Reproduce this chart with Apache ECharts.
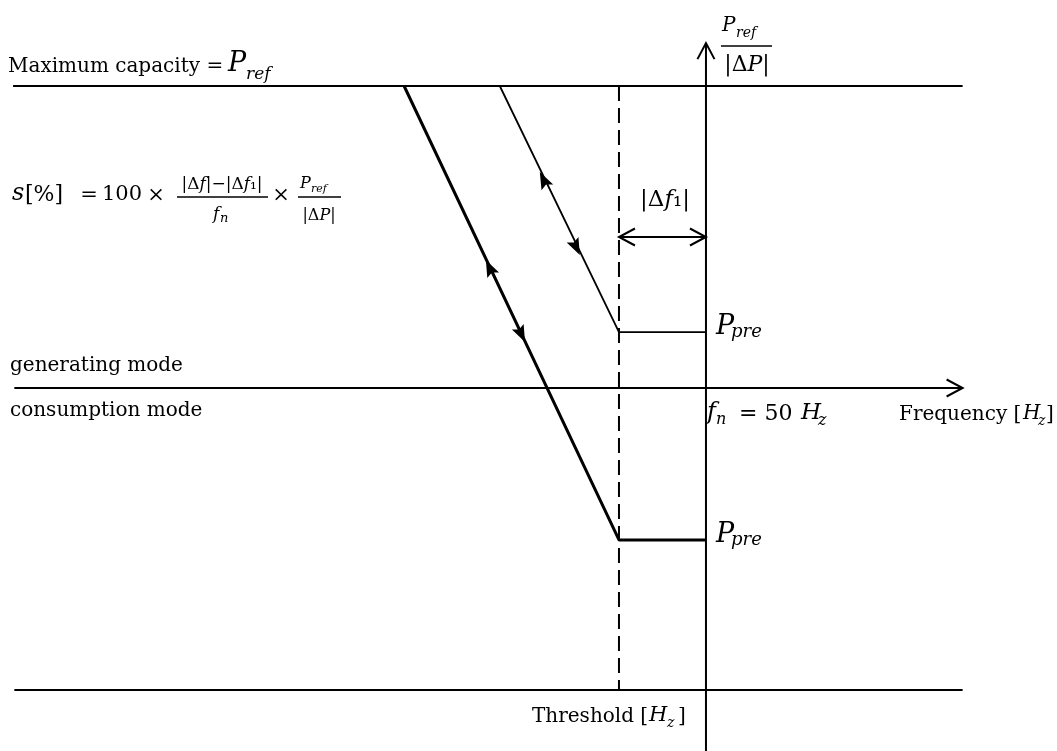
<!DOCTYPE html>
<html>
<head>
<meta charset="utf-8">
<script src="https://cdn.jsdelivr.net/npm/echarts@6/dist/echarts.min.js"></script>
<style>
  html, body { margin: 0; padding: 0; background: #fff; }
  #chart { width: 1057px; height: 751px; }
</style>
</head>
<body>
<div id="chart"></div>
<script>
// x: frequency [Hz], y: power in % of P_ref
const fn = 50;
const df1 = 0.2;
const freqAxis = [48.41, 50.59];
const capacityLevel = 100;
const thresholdLevel = -100;
const powerAxis = [-120.2, 114.2];
const thinDroop = [[49.526, 100], [49.8, 18.5], [50, 18.5]];
const thickDroop = [[49.306, 100], [49.8, -50.3], [50, -50.3]];
const df1Level = 50;

// arrow tip, then a point further back on the same line
const droopArrows = [
  [49.618, 71.5, 49.8, 18.5],
  [49.710, 44.0, 49.526, 100],
  [49.494, 42.4, 49.8, -50.3],
  [49.584, 15.2, 49.306, 100]
];
const openArrows = [
  [freqAxis[1], 0, freqAxis[0], 0],
  [fn, powerAxis[1], fn, powerAxis[0]],
  [fn - df1, df1Level, fn, df1Level],
  [fn, df1Level, fn - df1, df1Level]
];

const serif = 'DejaVu Serif';
const ink = '#000';

function seg(data, width, type) {
  return {
    type: 'line',
    data: data,
    symbol: 'none',
    silent: true,
    clip: false,
    lineStyle: { color: ink, width: width, type: type || 'solid' }
  };
}

function arrowRender(filled) {
  return function (params, api) {
    const tip = api.coord([api.value(0), api.value(1)]);
    const back = api.coord([api.value(2), api.value(3)]);
    let dx = back[0] - tip[0];
    let dy = back[1] - tip[1];
    const d = Math.hypot(dx, dy);
    dx /= d; dy /= d;
    const len = filled ? 17 : 16;
    const half = filled ? 6.5 : 8.5;
    const bx = tip[0] + dx * len;
    const by = tip[1] + dy * len;
    const p1 = [bx - dy * half, by + dx * half];
    const p2 = [bx + dy * half, by - dx * half];
    if (filled) {
      const notch = [tip[0] + dx * (len - 3), tip[1] + dy * (len - 3)];
      return { type: 'polygon', shape: { points: [tip, p1, notch, p2] }, style: { fill: ink } };
    }
    return {
      type: 'polyline',
      shape: { points: [p1, tip, p2] },
      style: { stroke: ink, lineWidth: 2, fill: null }
    };
  };
}

// text helper: x, y, string, size, italic, align
function txt(x, y, s, size, italic, align) {
  return {
    type: 'text', x: x, y: y, silent: true,
    style: {
      text: s, fill: ink, fontFamily: serif, fontSize: size,
      fontStyle: italic ? 'italic' : 'normal',
      align: align || 'left', verticalAlign: 'middle',
      textAlign: align || 'left', textVerticalAlign: 'middle'
    }
  };
}
function rich(x, y, s, size, align) {
  const el = txt(x, y, s, size, false, align);
  el.style.rich = {
    i: { fontFamily: serif, fontSize: size, fontStyle: 'italic', fill: ink },
    u: { fontFamily: serif, fontSize: size, fill: ink }
  };
  return el;
}
function bar(x1, x2, y) {
  return { type: 'line', silent: true, shape: { x1: x1, y1: y, x2: x2, y2: y }, style: { stroke: ink, lineWidth: 1.3 } };
}

const labels = [
  txt(8, 67, 'Maximum capacity =', 20),
  txt(228, 64, 'P', 27, true),
  txt(246, 75, 'ref', 17, true),

  txt(12, 194, 's', 24, true),
  txt(25, 195, '[%]', 22),
  txt(89, 196, '=', 21, false, 'center'),
  txt(122, 195, '100', 21, false, 'center'),
  txt(156, 196, '×', 21, false, 'center'),
  rich(222, 185, '{u||Δ}{i|f}{u||−|Δ}{i|f}{u|₁|}', 17, 'center'),
  bar(177, 268, 197),
  txt(213, 215, 'f', 17, true),
  txt(220, 219, 'n', 13, true),
  txt(281, 196, '×', 21, false, 'center'),
  txt(300, 184, 'P', 16, true),
  txt(311, 189, 'ref', 11, true),
  bar(298, 341, 197),
  rich(319, 216, '{u||Δ}{i|P}{u||}', 16, 'center'),

  txt(722, 26, 'P', 20, true),
  txt(736, 33, 'ref', 14, true),
  bar(721, 772, 46),
  rich(747, 65, '{u||Δ}{i|P}{u||}', 22, 'center'),

  rich(665, 200, '{u||Δ}{i|f}{u|₁|}', 23, 'center'),

  txt(716, 327, 'P', 27, true),
  txt(731, 332, 'pre', 18, true),
  txt(716, 535, 'P', 27, true),
  txt(731, 540, 'pre', 18, true),

  txt(10, 366, 'generating mode', 20),
  txt(10, 411, 'consumption mode', 20),

  txt(707, 413, 'f', 24, true),
  txt(716, 420, 'n', 16, true),
  txt(739, 414, '= 50', 22),
  txt(801, 413, 'H', 23, true),
  txt(818, 421, 'z', 16, true),

  txt(899, 415, 'Frequency [', 20),
  txt(1023, 414, 'H', 20, true),
  txt(1038, 421, 'z', 14, true),
  txt(1046, 415, ']', 20),

  txt(532, 717, 'Threshold [', 20),
  txt(649, 716, 'H', 21, true),
  txt(667, 723, 'z', 14, true),
  txt(678, 717, ']', 20)
];

const chart = echarts.init(document.getElementById('chart'));
chart.setOption({
  animation: false,
  backgroundColor: '#fff',
  grid: { left: 0, right: 0, top: 0, bottom: 0 },
  xAxis: { type: 'value', min: 48.377, max: 50.807, show: false },
  yAxis: { type: 'value', min: -120.199, max: 128.477, show: false },
  series: [
    seg([[48.407, capacityLevel], [freqAxis[1], capacityLevel]], 1.8),
    seg([[freqAxis[0], thresholdLevel], [freqAxis[1], thresholdLevel]], 1.8),
    seg([[freqAxis[0], 0], [freqAxis[1], 0]], 2),
    seg([[fn, powerAxis[0]], [fn, powerAxis[1]]], 2),
    seg([[fn - df1, capacityLevel], [fn - df1, thresholdLevel]], 2, [15, 7]),
    seg(thinDroop, 1.8),
    seg(thickDroop, 3),
    seg([[fn - df1, df1Level], [fn, df1Level]], 2),
    { type: 'custom', data: droopArrows, renderItem: arrowRender(true), silent: true, clip: false },
    { type: 'custom', data: openArrows, renderItem: arrowRender(false), silent: true, clip: false }
  ],
  graphic: labels
});
</script>
</body>
</html>
